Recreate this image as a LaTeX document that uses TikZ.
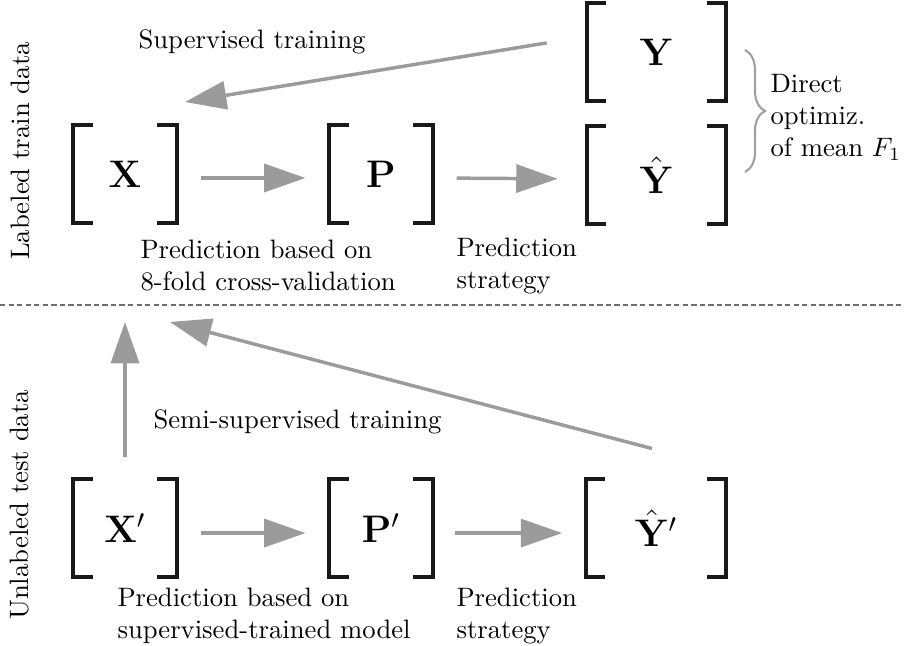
\documentclass[tikz,border=0pt]{standalone}
\usetikzlibrary{arrows.meta,decorations.pathreplacing}
\definecolor{arrgray}{RGB}{155,155,155}
\definecolor{bracegray}{RGB}{160,160,160}
\definecolor{sepgray}{RGB}{110,110,110}
\definecolor{brk}{RGB}{25,25,25}
\tikzset{
  mat/.style={inner sep=0pt, minimum height=36pt, font=\Large},
  narrow/.style={minimum width=38.25pt},
  wide/.style={minimum width=52pt},
  bracket/.style={draw=brk, line width=1.5pt},
  flow/.style={draw=arrgray, line width=1.3pt, -{Triangle[length=15.5pt,width=10.5pt]}},
  lbl/.style={align=left, anchor=west, inner sep=0pt},
  sidelbl/.style={rotate=90, inner sep=0pt},
}
% square brackets around a matrix node
\newcommand\matbrackets[1]{%
  \draw[bracket] ([xshift=7.2pt]#1.north west) -- (#1.north west) -- (#1.south west) -- ([xshift=7.2pt]#1.south west);
  \draw[bracket] ([xshift=-7.2pt]#1.north east) -- (#1.north east) -- (#1.south east) -- ([xshift=-7.2pt]#1.south east);}
\begin{document}
\begin{tikzpicture}[x=0.375pt, y=-0.375pt]
  \useasboundingbox (0,0) rectangle (913,646);

  % matrices
  \node[mat, narrow] (X)   at (125,174)   {$\mathbf{X}$};
  \node[mat, narrow] (P)   at (381,174)   {$\mathbf{P}$};
  \node[mat, wide]   (Yh)  at (656.5,175) {$\hat{\mathbf{Y}}$};
  \node[mat, wide]   (Y)   at (656.5,52)  {$\mathbf{Y}$};
  \node[mat, narrow] (Xp)  at (125,528)   {$\mathbf{X}'$};
  \node[mat, narrow] (Pp)  at (381,528)   {$\mathbf{P}'$};
  \node[mat, wide]   (Yhp) at (656,528)   {$\hat{\mathbf{Y}}'$};
  \foreach \m in {X,P,Yh,Y,Xp,Pp,Yhp} {\matbrackets{\m}}

  % free arrow ends
  \coordinate (svtip)  at (185,102);
  \coordinate (sstip)  at (125,322);
  \coordinate (sdtip)  at (170,322);

  % labels
  \node[sidelbl] (ltrain) at (20,151) {Labeled train data};
  \node[sidelbl] (ltest)  at (20,505) {Unlabeled test data};
  \node[lbl] (tsup)  at (138,42)  {Supervised training};
  \node[lbl] (tpred) at (140,266) {Prediction based on\\8-fold cross-validation};
  \node[lbl] (tstr)  at (456,266) {Prediction\\strategy};
  \node[lbl] (tdir)  at (770,117) {Direct\\optimiz.\\of mean $F_1$};
  \node[lbl] (tsemi) at (153,422) {Semi-supervised training};
  \node[lbl] (tpred2) at (117,616) {Prediction based on\\supervised-trained model};
  \node[lbl] (tstr2) at (456,616) {Prediction\\strategy};

  % separator between train and test part
  \draw[sepgray, line width=0.4pt, dash pattern=on 2pt off 1.2pt] (0,305) -- (903,305);

  % brace joining Y and Y-hat
  \draw[bracegray, line width=0.8pt, decorate, decoration={brace, amplitude=7.5pt}]
    (745,50) -- (745,172);

  % flow arrows
  \draw[flow, shorten <=9pt, shorten >=9pt] ([yshift=-1.5pt]X.east) -- ([yshift=-1.5pt]P.west);
  \draw[flow, shorten <=9pt, shorten >=10.9pt] ([yshift=-1.5pt]P.east) -- ([yshift=-1.5pt]Yh.west);
  \draw[flow, shorten <=9pt, shorten >=9pt] ([yshift=-1.9pt]Xp.east) -- ([yshift=-1.9pt]Pp.west);
  \draw[flow, shorten <=8.6pt, shorten >=9pt] ([yshift=-1.9pt]Pp.east) -- ([yshift=-1.9pt]Yhp.west);
  \draw[flow] ([yshift=8.6pt]Xp.north) -- (sstip);
  \draw[flow] ([shift={(-1.5pt,11.6pt)}]Yhp.north) -- (sdtip);
  \draw[flow] ([shift={(-15pt,3.4pt)}]Y.west) -- (svtip);
\end{tikzpicture}
\end{document}
